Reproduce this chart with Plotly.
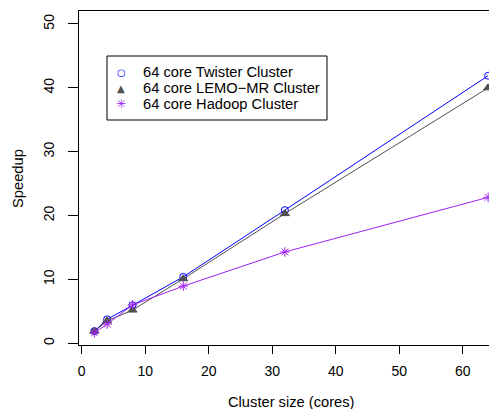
import plotly.graph_objects as go

cores = [2, 4, 8, 16, 32, 64]
twister = [1.9, 3.75, 5.95, 10.4, 20.85, 41.9]
lemo = [1.9, 3.5, 5.2, 10.1, 20.3, 40.0]
hadoop = [1.65, 3.0, 6.0, 8.95, 14.3, 22.85]
x_ticks = [0, 10, 20, 30, 40, 50, 60]
y_ticks = [0, 10, 20, 30, 40, 50]

series = [
    ("64 core Twister Cluster", twister, "#0000FF", "circle-open", 7, "\u25CB", 10),
    ("64 core LEMO\u2212MR Cluster", lemo, "#505050", "triangle-up", 8, "\u25B2", 10),
    ("64 core Hadoop Cluster", hadoop, "#A020F0", "asterisk-open", 8, "\u2733", 12),
]

# page body has an 8px default margin; size the figure so it fills the window
O = 8
W, H = 497 - O, 409 - O
L, T = 79 - O, 11 - O
B = 409 - 345
pw = W - L
ph = H - T - B
FONT = "Liberation Sans, Arial, sans-serif"
FS = 14.7


def px(x):
    return (x - O - L) / pw


def py(y):
    return 1 - (y - O - T) / ph


fig = go.Figure()
for name, ys, col, sym, sz, _, _ in series:
    fig.add_trace(go.Scatter(
        x=cores, y=ys, mode="lines+markers", name=name, showlegend=False,
        line=dict(color=col, width=1),
        marker=dict(symbol=sym, size=sz, color=col, line=dict(color=col, width=1)),
    ))

annotations = []
for i, (name, ys, col, sym, sz, glyph, gsz) in enumerate(series):
    yy = 72 + 16 * i
    annotations.append(dict(xref="paper", yref="paper", x=px(141), y=py(yy),
                            xanchor="left", yanchor="middle", showarrow=False,
                            text=name, font=dict(family=FONT, size=FS, color="black")))
    annotations.append(dict(xref="paper", yref="paper", x=px(121), y=py(yy),
                            xanchor="center", yanchor="middle", showarrow=False,
                            text=glyph, font=dict(family="DejaVu Sans", size=gsz, color=col)))
annotations.append(dict(xref="paper", yref="paper", x=px(291), y=py(402),
                        xanchor="center", yanchor="middle", showarrow=False,
                        text="Cluster size (cores)", font=dict(family=FONT, size=FS, color="black")))
annotations.append(dict(xref="paper", yref="paper", x=px(18), y=py(178),
                        xanchor="center", yanchor="middle", showarrow=False, textangle=-90,
                        text="Speedup", font=dict(family=FONT, size=FS, color="black")))

fig.update_layout(
    width=W, height=H,
    margin=dict(l=L, r=0, t=T, b=B),
    paper_bgcolor="white", plot_bgcolor="white",
    font=dict(family=FONT, size=FS, color="black"),
    showlegend=False,
    xaxis=dict(range=[-0.425, -0.425 + pw / 6.35], tickvals=x_ticks,
               showgrid=False, zeroline=False, showline=True, mirror=True,
               linecolor="black", linewidth=1, ticks="outside", ticklen=8,
               tickcolor="black", ticklabelstandoff=5, automargin=False,
               tickfont=dict(size=14)),
    yaxis=dict(range=[-0.27, 52.03], tickvals=y_ticks,
               showgrid=False, zeroline=False, showline=True,
               linecolor="black", linewidth=1, ticks="outside", ticklen=10,
               tickcolor="black", tickangle=-90, ticklabelstandoff=8, automargin=False,
               tickfont=dict(size=14)),
    shapes=[dict(type="rect", xref="paper", yref="paper",
                 x0=px(107), x1=px(327), y0=py(120), y1=py(56),
                 line=dict(color="black", width=1), fillcolor="rgba(0,0,0,0)")],
    annotations=annotations,
)
fig.write_html("out.html")
